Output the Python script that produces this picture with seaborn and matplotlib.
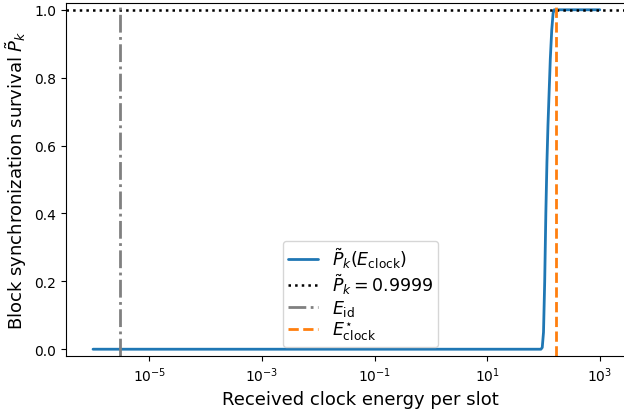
import numpy as np
import pandas as pd
import matplotlib
matplotlib.use('Agg')
import matplotlib.pyplot as plt
import seaborn as sns

# survival curve
energy = [1e-6, 1e-3, 1.0, 50, 90, 95, 100, 105, 110, 115, 120, 126, 132, 140, 148, 155, 200, 1000]
survival = [0.0, 0.0, 0.0, 0.0, 0.0, 0.005, 0.05, 0.2, 0.4, 0.55, 0.66, 0.76, 0.855, 0.94, 0.99, 1.0, 1.0, 1.0]
target_p = 0.9999
e_id = 3e-6
e_clock_star = 164

df = pd.DataFrame({'energy': energy, 'survival': survival})

sns.set_style('ticks', {'text.color': 'black', 'axes.labelcolor': 'black',
                        'xtick.color': 'black', 'ytick.color': 'black',
                        'axes.edgecolor': 'black'})
fig = plt.figure(figsize=(6.24, 4.14), dpi=100)
ax = fig.add_axes([66/624, 1 - 357/414, (655 - 66)/624, (357 - 4)/414])

sns.lineplot(data=df, x='energy', y='survival', ax=ax, color='#1f77b4', lw=2,
             label=r'$\tilde{P}_k(E_{\mathrm{clock}})$')
ax.axhline(target_p, color='black', ls=':', lw=1.8, label=r'$\tilde{P}_k = 0.9999$')
ax.axvline(e_id, color='gray', ls='-.', lw=2, label=r'$E_{\mathrm{id}}$')
ax.axvline(e_clock_star, color='#ff7f0e', ls='--', lw=2, label=r'$E^{\star}_{\mathrm{clock}}$')

ax.set_xscale('log')
ax.set_xlim(10**-6.48, 10**3.98)
ax.set_ylim(-0.02, 1.02)
ax.set_xticks([1e-5, 1e-3, 1e-1, 1e1, 1e3])
ax.minorticks_off()
ax.tick_params(labelsize=10)
ax.set_xlabel('Received clock energy per slot', fontsize=13)
ax.set_ylabel(r'Block synchronization survival $\tilde{P}_k$', fontsize=13)
ax.legend(loc='lower center', fontsize=12.5, labelspacing=0.1, handlelength=1.7,
          borderpad=0.3)

fig.savefig('out.png', dpi=100)
